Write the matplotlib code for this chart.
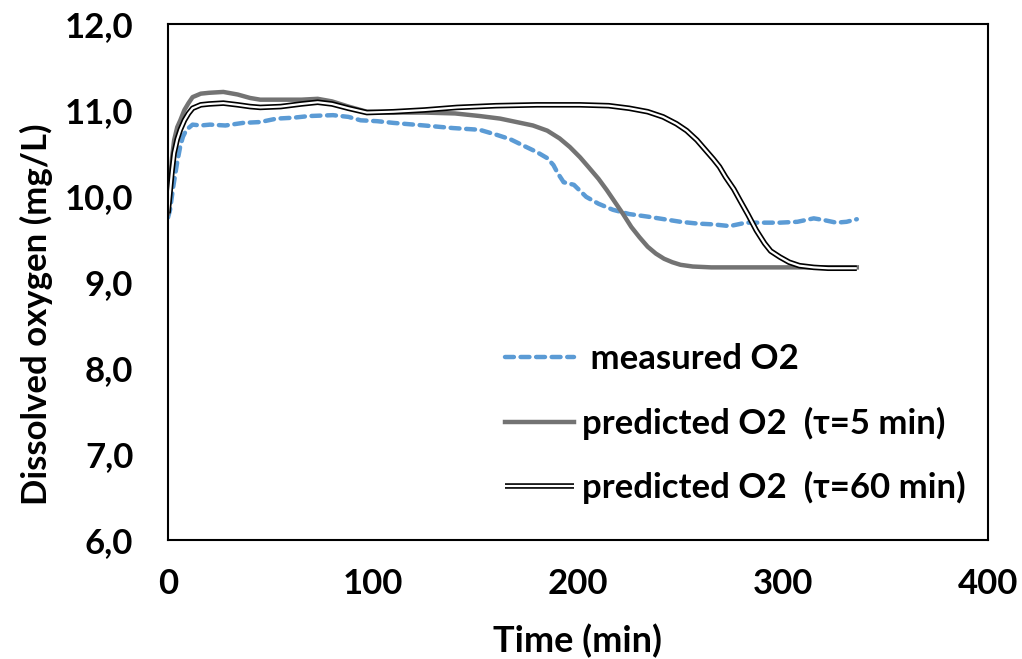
import numpy as np
import matplotlib.pyplot as plt
from matplotlib.ticker import FuncFormatter

plt.rcParams['font.family'] = ['Lato', 'DejaVu Sans']
plt.rcParams['font.weight'] = 'bold'

# measured O2
t_meas = [0, 1, 2.5, 4.4, 6, 7.3, 9, 12, 16, 20.5, 28, 36.6, 45, 53, 61, 69, 80.5, 88, 94,
          102, 110, 125, 139, 152, 160.5, 167, 173, 180, 185, 188, 190, 193, 198, 204, 210,
          217, 225, 234, 242, 250, 258, 266, 274, 282, 290, 298.5, 307, 315, 320, 326, 331, 336]
o2_meas = [9.75, 9.84, 10.1, 10.38, 10.58, 10.69, 10.77, 10.83, 10.82, 10.83, 10.82, 10.85, 10.86,
           10.9, 10.91, 10.93, 10.94, 10.92, 10.88, 10.87, 10.85, 10.82, 10.79, 10.77, 10.71,
           10.66, 10.59, 10.51, 10.44, 10.36, 10.27, 10.16, 10.13, 9.99, 9.91, 9.84, 9.79,
           9.76, 9.73, 9.7, 9.68, 9.67, 9.65, 9.69, 9.69, 9.69, 9.7, 9.74, 9.72, 9.69, 9.7, 9.73]

# predicted O2, tau = 5 min
t_p5 = [0, 1, 2, 3, 4.5, 6, 8, 10, 12, 16, 20, 27, 34, 40, 45, 55, 65, 73, 80, 88, 97, 110,
        125, 140, 152, 162, 170, 178, 185, 191, 196, 201, 205, 210, 214, 218, 222, 226, 230,
        234, 238, 242, 246, 250, 256, 265, 280, 300, 320, 336]
o2_p5 = [9.8, 10.15, 10.45, 10.65, 10.8, 10.88, 11.0, 11.08, 11.15, 11.19, 11.2, 11.21, 11.18,
         11.14, 11.12, 11.12, 11.12, 11.13, 11.1, 11.04, 10.98, 10.97, 10.97, 10.96, 10.93,
         10.9, 10.86, 10.82, 10.76, 10.67, 10.57, 10.45, 10.34, 10.2, 10.07, 9.93, 9.79, 9.64,
         9.52, 9.41, 9.33, 9.27, 9.23, 9.2, 9.18, 9.17, 9.17, 9.17, 9.17, 9.17]

# predicted O2, tau = 60 min
t_p60 = [0, 1, 2, 3, 4.5, 6, 8, 10, 12, 16, 20, 27, 34, 40, 45, 55, 65, 73, 80, 88, 97, 110,
         125, 141, 160, 180, 201, 215, 225, 234, 241.5, 248, 253, 258, 262, 266, 269, 272, 276,
         279, 283, 287, 291, 294, 298.5, 303, 308, 315, 322, 336]
o2_p60 = [9.8, 10.05, 10.3, 10.5, 10.66, 10.77, 10.88, 10.96, 11.02, 11.06, 11.07, 11.08, 11.06,
          11.04, 11.03, 11.04, 11.07, 11.09, 11.07, 11.02, 10.97, 10.98, 11.0, 11.03, 11.05,
          11.06, 11.06, 11.05, 11.02, 10.98, 10.92, 10.84, 10.76, 10.65, 10.54, 10.43, 10.34,
          10.22, 10.08, 9.95, 9.78, 9.6, 9.45, 9.36, 9.29, 9.23, 9.19, 9.17, 9.16, 9.16]

fig = plt.figure(figsize=(10.22, 6.59), dpi=100)
ax = fig.add_axes([168 / 1022, 1 - 540 / 659, 820 / 1022, 516 / 659])

l1, = ax.plot(t_meas, o2_meas, color='#5B9BD5', lw=3.2, linestyle=(0, (2.0, 1.5)),
              dash_capstyle='round')
l2, = ax.plot(t_p5, o2_p5, color='#737373', lw=3.2)
l3a, = ax.plot(t_p60, o2_p60, color='black', lw=4.0, solid_capstyle='butt')
l3b, = ax.plot(t_p60, o2_p60, color='white', lw=1.6, solid_capstyle='butt')

ax.set_xlim(0, 400)
ax.set_ylim(6, 12)
ax.set_xticks([0, 100, 200, 300, 400])
ax.set_yticks([6, 7, 8, 9, 10, 11, 12])
ax.yaxis.set_major_formatter(FuncFormatter(lambda v, p: f'{v:.1f}'.replace('.', ',')))
ax.tick_params(length=0, labelsize=25)
ax.tick_params(axis='y', pad=25)
ax.tick_params(axis='x', pad=20)
for s in ax.spines.values():
    s.set_linewidth(1.5)

ax.set_xlabel('Time (min)', fontsize=26, fontweight='bold')
ax.set_ylabel('Dissolved oxygen (mg/L)', fontsize=25, fontweight='bold')
ax.xaxis.set_label_coords(0.499, -0.163)
ax.yaxis.set_label_coords(-0.140, 0.438)

ax.legend([l1, l2, (l3a, l3b)],
          [' measured O2', 'predicted O2  (τ=5 min)', 'predicted O2  (τ=60 min)'],
          loc='upper left', bbox_to_anchor=(0.411, 0.381), frameon=False, fontsize=25,
          handlelength=2.0, handletextpad=0.23, labelspacing=0.9, borderaxespad=0,
          borderpad=0)

fig.savefig('out.png', dpi=100)
